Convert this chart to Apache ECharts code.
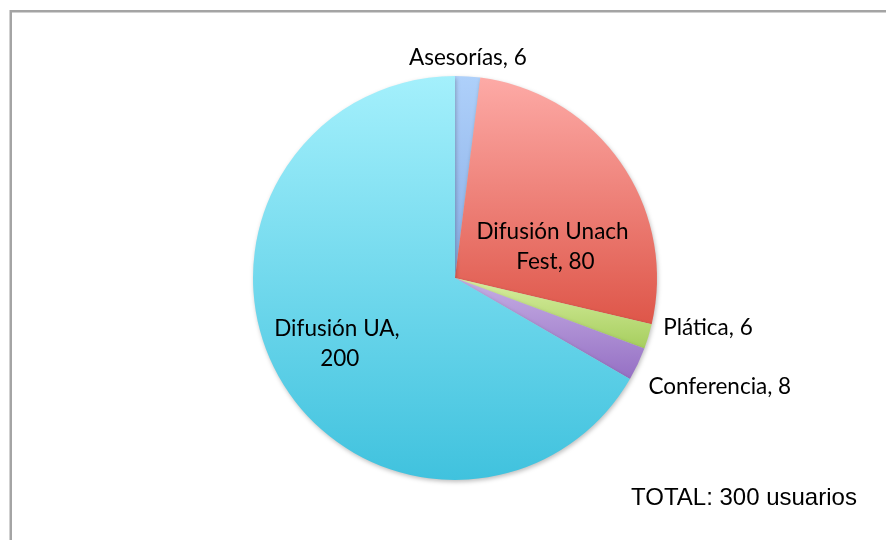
<!DOCTYPE html>
<html>
<head>
<meta charset="utf-8">
<script src="https://cdn.jsdelivr.net/npm/echarts@6/dist/echarts.min.js"></script>
<style>
  html, body { margin: 0; padding: 0; background: #fff; }
  #chart { width: 886px; height: 540px; }
</style>
</head>
<body>
<div id="chart"></div>
<script>
const categories = ['Asesorías', 'Difusión Unach Fest', 'Plática', 'Conferencia', 'Difusión UA'];
const values = [6, 80, 6, 8, 200];
const totalLabel = 'TOTAL: 300 usuarios';

// gradient top / bottom per slice
const sliceColors = [
  ['#AED0FA', '#8AAEE6'],
  ['#FDAAA6', '#DE5649'],
  ['#D8EEA0', '#A6CE5E'],
  ['#C6AEE4', '#9570C4'],
  ['#A4F0FC', '#40C2DE']
];

// label placement per slice
const labelOpts = [
  { position: 'outside' },
  { position: 'inside', width: 178, offset: [15, 28] },
  { position: 'outside' },
  { position: 'outside' },
  { position: 'inside', width: 142, offset: [-28, 14] }
];
// nudges for the outside labels
const labelShift = [[-64, -15], [0, 0], [6, -10], [2, 21], [0, 0]];

const chart = echarts.init(document.getElementById('chart'));

const data = categories.map((name, i) => ({
  name: name,
  value: values[i],
  itemStyle: {
    color: new echarts.graphic.LinearGradient(0, 0, 0, 1, [
      { offset: 0, color: sliceColors[i][0] },
      { offset: 1, color: sliceColors[i][1] }
    ])
  },
  label: Object.assign({ overflow: 'break' }, labelOpts[i])
}));

chart.setOption({
  animation: false,
  graphic: [
    {
      type: 'rect',
      shape: { x: 10.75, y: 11.25, width: 900, height: 560 },
      style: { fill: 'none', stroke: '#A4A4A4', lineWidth: 2.5 },
      silent: true
    },
    {
      type: 'text',
      left: 631,
      top: 486,
      style: {
        text: totalLabel,
        font: '24px "Liberation Sans", Arial, sans-serif',
        fill: '#000'
      }
    }
  ],
  series: [
    {
      type: 'pie',
      center: [455, 278],
      radius: 202,
      startAngle: 90,
      clockwise: true,
      avoidLabelOverlap: false,
      itemStyle: {
        shadowBlur: 4,
        shadowColor: 'rgba(0,0,0,0.25)',
        shadowOffsetX: 1,
        shadowOffsetY: 2
      },
      label: {
        show: true,
        formatter: '{b}, {c}',
        color: '#000',
        fontFamily: 'Lato',
        fontSize: 22.5,
        lineHeight: 30,
        align: 'center'
      },
      labelLine: { show: false, length: 4, length2: 0 },
      labelLayout: function (params) {
        const s = labelShift[params.dataIndex];
        return { dx: s[0], dy: s[1], hideOverlap: false };
      },
      emphasis: { disabled: true },
      data: data
    }
  ]
});
</script>
</body>
</html>
